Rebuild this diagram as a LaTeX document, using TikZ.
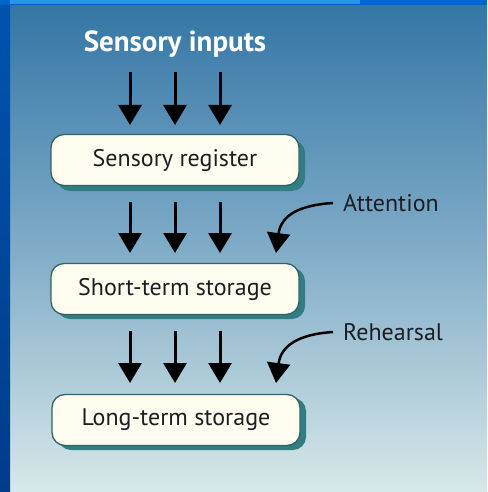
\documentclass[tikz,border=0pt]{standalone}
\usepackage{fontspec}
\setmainfont{PT Sans}
\usetikzlibrary{arrows.meta}
\definecolor{panTop}{RGB}{52,118,165}
\definecolor{panMid}{RGB}{128,172,200}
\definecolor{panBot}{RGB}{215,232,232}
\definecolor{stripL}{RGB}{0,84,172}
\definecolor{stripLB}{RGB}{0,60,140}
\definecolor{stripT}{RGB}{40,150,225}
\definecolor{stripT2}{RGB}{0,102,204}
\definecolor{cream}{RGB}{255,253,240}
\definecolor{boxEdge}{RGB}{46,100,104}
\definecolor{shadowC}{RGB}{50,125,130}
\definecolor{ink}{RGB}{28,30,36}
\tikzset{
  membox/.style={draw=boxEdge, line width=1.3pt, fill=cream, rounded corners=13pt,
    minimum width=248pt, minimum height=51pt, inner sep=0pt,
    font=\fontsize{24}{28}\selectfont, text=ink},
  shadowbox/.style={fill=shadowC, rounded corners=13pt},
  flow/.style={line width=3pt, -{Triangle[width=23pt,length=20pt]}, black},
  cue/.style={line width=2.5pt, -{Triangle[width=23pt,length=20pt]}, black},
  cuelabel/.style={font=\fontsize{24}{28}\selectfont, text=ink, anchor=west, inner sep=0pt}
}
\begin{document}
\begin{tikzpicture}[x=1pt,y=-1pt]
\useasboundingbox (0,0) rectangle (487,492);
% background panel
\shade[top color=panTop, bottom color=panBot, middle color=panMid] (10,5) rectangle (487,492);
% left strip
\shade[top color=stripL, bottom color=stripLB] (0,0) rectangle (10,492);
% top strip
\fill[stripT2] (0,0) rectangle (487,5);
\fill[stripT] (10,0) rectangle (360,4);
% title
\node[font=\fontsize{29}{33}\selectfont\bfseries, text=white] (title) at (175,44) {Sensory inputs};
% shadows
\path[shadowbox] (57,140) rectangle (305,191);
\path[shadowbox] (57,268) rectangle (305,319);
\path[shadowbox] (58,398) rectangle (306,450);
% boxes
\node[membox] (reg) at (175,160) {Sensory register};
\node[membox] (sts) at (175,289) {Short-term storage};
\node[membox] (lts) at (176,420) {Long-term storage};
% coordinates for arrows
\foreach \i/\x in {1/130,2/175,3/220}{
  \coordinate (a\i s) at (\x,72);
  \coordinate (a\i e) at (\x,125);
  \coordinate (b\i s) at (\x,202);
  \coordinate (b\i e) at (\x,253);
  \coordinate (c\i s) at (\x,331);
  \coordinate (c\i e) at (\x,383);
}
\foreach \i in {1,2,3}{
  \draw[flow] (a\i s) -- (a\i e);
  \draw[flow] (b\i s) -- (b\i e);
  \draw[flow] (c\i s) -- (c\i e);
}
% cue labels
\node[cuelabel] (att) at (343,203) {Attention};
\node[cuelabel] (reh) at (343,332) {Rehearsal};
\coordinate (attE) at (276,253);
\coordinate (rehE) at (276,383);
\draw[cue] ([xshift=-10pt]att.west) .. controls (300,205) and (281,215) .. (attE);
\draw[cue] ([xshift=-10pt]reh.west) .. controls (300,334) and (281,345) .. (rehE);
\end{tikzpicture}
\end{document}
